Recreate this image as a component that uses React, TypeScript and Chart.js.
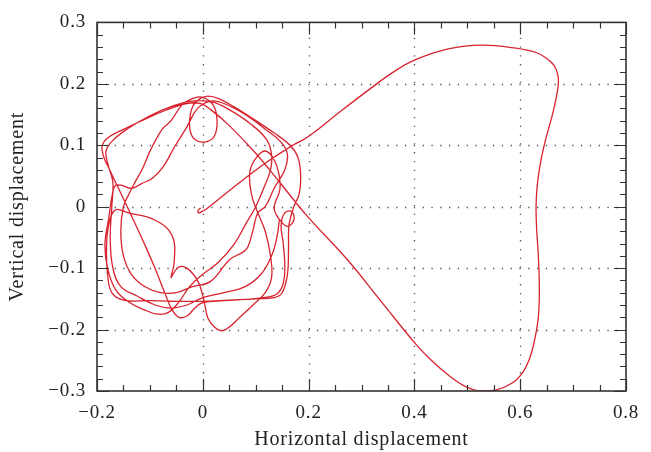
import React, { useEffect, useRef } from "react";
import { Chart, registerables } from "chart.js";

Chart.register(...registerables);

// Initial hook near the origin
const startPath: [number, number][] = [
  [-0.004, -0.002], [-0.009, -0.006], [-0.008, -0.010], [-0.002, -0.008], [0.008, -0.003],
  [0.06, 0.033], [0.12, 0.072], [0.17, 0.100],
];

// Large excursion to the right
const lobePath: [number, number][] = [
  [0.199, 0.114], [0.26, 0.155], [0.318, 0.193], [0.36, 0.219], [0.401, 0.239], [0.464, 0.257],
  [0.528, 0.263], [0.592, 0.258], [0.630, 0.251], [0.649, 0.242], [0.664, 0.230], [0.671, 0.215],
  [0.672, 0.199], [0.668, 0.177], [0.661, 0.150], [0.652, 0.122], [0.644, 0.095], [0.637, 0.065],
  [0.632, 0.033], [0.630, 0.0], [0.631, -0.035], [0.634, -0.075], [0.636, -0.119], [0.636, -0.150],
  [0.634, -0.183], [0.627, -0.218], [0.617, -0.249], [0.603, -0.272], [0.585, -0.287], [0.555, -0.298],
  [0.522, -0.300], [0.495, -0.292], [0.464, -0.274], [0.432, -0.250], [0.401, -0.222], [0.337, -0.154],
  [0.273, -0.086], [0.197, -0.015], [0.146, 0.039],
];

// Tangled motion around the origin
const rosettePath: [number, number][] = [
  [0.10, 0.087], [0.05, 0.132], [0.015, 0.158], [-0.005, 0.168],
  [-0.03, 0.168], [-0.07, 0.157], [-0.11, 0.142], [-0.15, 0.126], [-0.178, 0.113], [-0.19, 0.100], [-0.188, 0.083],
  [-0.175, 0.058], [-0.155, 0.022], [-0.132, -0.02], [-0.108, -0.065], [-0.088, -0.105], [-0.072, -0.14],
  [-0.058, -0.168], [-0.045, -0.180], [-0.03, -0.178], [-0.015, -0.165],
  [0.0, -0.156], [0.04, -0.153], [0.08, -0.151], [0.115, -0.148], [0.14, -0.142], [0.152, -0.125],
  [0.155, -0.095], [0.152, -0.06], [0.148, -0.03],
  [0.155, -0.01], [0.168, -0.008], [0.172, -0.022], [0.16, -0.032], [0.146, -0.022], [0.135, -0.002],
  [0.146, 0.03], [0.14, 0.066], [0.121, 0.09], [0.103, 0.082], [0.089, 0.057], [0.092, 0.02], [0.104, -0.01], [0.118, -0.04],
  [0.128, -0.08], [0.13, -0.115], [0.118, -0.14], [0.095, -0.16], [0.07, -0.18], [0.05, -0.196], [0.036, -0.202],
  [0.022, -0.196], [0.01, -0.182], [0.005, -0.165],
  [0.0, -0.145], [-0.01, -0.12], [-0.03, -0.10], [-0.045, -0.098], [-0.055, -0.108], [-0.06, -0.115], [-0.054, -0.09],
  [-0.058, -0.047], [-0.09, -0.022], [-0.141, -0.01],
  [-0.165, -0.005], [-0.178, -0.03], [-0.182, -0.07], [-0.18, -0.11], [-0.172, -0.14], [-0.15, -0.152], [-0.1, -0.153],
  [-0.05, -0.154], [0.0, -0.154], [0.05, -0.152], [0.1, -0.15], [0.135, -0.148], [0.15, -0.14],
  [0.16, -0.11], [0.162, -0.07], [0.163, -0.03], [0.172, 0.0], [0.182, 0.02], [0.185, 0.05], [0.18, 0.08], [0.165, 0.1],
  [0.135, 0.12], [0.095, 0.143], [0.06, 0.162], [0.03, 0.176], [0.01, 0.18], [-0.005, 0.176], [-0.018, 0.165],
  [-0.025, 0.14], [-0.022, 0.118], [-0.01, 0.107], [0.008, 0.106], [0.022, 0.115], [0.027, 0.14], [0.02, 0.165],
  [0.0, 0.178], [-0.02, 0.176],
  [-0.04, 0.165], [-0.06, 0.14], [-0.077, 0.126], [-0.1, 0.09], [-0.115, 0.06], [-0.128, 0.04], [-0.14, 0.02],
  [-0.15, 0.0], [-0.155, -0.04], [-0.15, -0.08], [-0.135, -0.11], [-0.11, -0.13], [-0.08, -0.14], [-0.05, -0.14], [-0.02, -0.13],
  [0.014, -0.122], [0.051, -0.086], [0.076, -0.074], [0.085, -0.066], [0.095, -0.038], [0.104, -0.01], [0.118, 0.0],
  [0.135, 0.03], [0.155, 0.06], [0.16, 0.085], [0.148, 0.105], [0.12, 0.125], [0.08, 0.15], [0.04, 0.168], [0.015, 0.172],
  [-0.01, 0.16], [-0.03, 0.13], [-0.053, 0.098], [-0.075, 0.065], [-0.096, 0.046], [-0.115, 0.038], [-0.134, 0.03],
  [-0.155, 0.035], [-0.166, 0.034], [-0.172, 0.015], [-0.178, -0.02], [-0.185, -0.06], [-0.18, -0.1], [-0.165, -0.135],
  [-0.14, -0.155], [-0.11, -0.168], [-0.085, -0.175], [-0.065, -0.172], [-0.045, -0.155], [-0.025, -0.13], [0.0, -0.11],
  [0.03, -0.09], [0.06, -0.06], [0.08, -0.03], [0.1, 0.0], [0.115, 0.03], [0.128, 0.06], [0.13, 0.085],
  [0.12, 0.11], [0.09, 0.135], [0.05, 0.158], [0.02, 0.17], [-0.02, 0.172], [-0.06, 0.163], [-0.1, 0.148],
  [-0.14, 0.128], [-0.17, 0.108], [-0.183, 0.09], [-0.178, 0.065], [-0.17, 0.04], [-0.172, 0.0], [-0.175, -0.05],
  [-0.17, -0.1], [-0.155, -0.13], [-0.125, -0.145], [-0.09, -0.16], [-0.06, -0.165], [-0.03, -0.16], [0.0, -0.148],
  [0.04, -0.14], [0.08, -0.13], [0.11, -0.11], [0.13, -0.08], [0.14, -0.05], [0.145, -0.02],
];

const xTickValues = [-0.2, 0, 0.2, 0.4, 0.6, 0.8];
const yTickValues = [-0.3, -0.2, -0.1, 0, 0.1, 0.2, 0.3];
const xGridValues = [0, 0.2, 0.4, 0.6];
const yGridValues = [-0.2, -0.1, 0, 0.1, 0.2];

const FONT = "'Liberation Serif', 'Times New Roman', serif";

const fmt = (v: number) => {
  const r = Math.round(v * 10) / 10;
  if (r === 0) return "0";
  return (r < 0 ? "\u2212" : "") + Math.abs(r).toString();
};

const framePlugin = {
  id: "frame",
  beforeDraw(chart: any) {
    chart.ctx.letterSpacing = "0.8px";
  },
  beforeDatasetsDraw(chart: any) {
    const { ctx, chartArea: a, scales } = chart;
    const xs = scales.x, ys = scales.y;
    ctx.save();
    ctx.strokeStyle = "#555";
    ctx.lineWidth = 1.3;
    ctx.setLineDash([1.3, 7.5]);
    xGridValues.forEach((v) => {
      const px = Math.round(xs.getPixelForValue(v)) + 0.5;
      ctx.beginPath(); ctx.moveTo(px, a.bottom); ctx.lineTo(px, a.top); ctx.stroke();
    });
    yGridValues.forEach((v) => {
      const py = Math.round(ys.getPixelForValue(v)) + 0.5;
      ctx.beginPath(); ctx.moveTo(a.left, py); ctx.lineTo(a.right, py); ctx.stroke();
    });
    ctx.restore();
  },
  afterDraw(chart: any) {
    const { ctx, chartArea: a, scales } = chart;
    const xs = scales.x, ys = scales.y;
    ctx.save();
    ctx.setLineDash([]);
    ctx.strokeStyle = "#333";
    ctx.lineWidth = 1.2;
    for (let i = 0; i <= 20; i++) {
      const v = -0.2 + i * 0.05;
      const major = i % 4 === 0;
      const len = major ? 12 : 6;
      const px = Math.round(xs.getPixelForValue(v)) + 0.5;
      ctx.beginPath();
      ctx.moveTo(px, a.bottom); ctx.lineTo(px, a.bottom - len);
      ctx.moveTo(px, a.top); ctx.lineTo(px, a.top + len);
      ctx.stroke();
    }
    for (let i = 0; i <= 30; i++) {
      const v = -0.3 + i * 0.02;
      const major = i % 5 === 0;
      const len = major ? 12 : 6;
      const py = Math.round(ys.getPixelForValue(v)) + 0.5;
      ctx.beginPath();
      ctx.moveTo(a.left, py); ctx.lineTo(a.left + len, py);
      ctx.moveTo(a.right, py); ctx.lineTo(a.right - len, py);
      ctx.stroke();
    }
    ctx.lineWidth = 1.6;
    ctx.strokeRect(a.left, a.top, a.right - a.left, a.bottom - a.top);
    ctx.restore();
  },
};

export default function App() {
  const ref = useRef<HTMLCanvasElement | null>(null);
  useEffect(() => {
    document.body.style.margin = "0";
    if (!ref.current) return;
    const pts = [...startPath, ...lobePath, ...rosettePath].map(([x, y]) => ({ x, y }));
    const chart = new Chart(ref.current, {
      type: "scatter",
      data: {
        datasets: [
          {
            data: pts,
            showLine: true,
            borderColor: "#d8232f",
            borderWidth: 1.3,
            pointRadius: 0,
            tension: 0.4,
            fill: false,
          },
        ],
      },
      options: {
        responsive: false,
        animation: false,
        layout: { padding: { left: 0, top: 16, right: 25, bottom: 0 } },
        plugins: { legend: { display: false }, tooltip: { enabled: false } },
        scales: {
          x: {
            type: "linear",
            min: -0.2,
            max: 0.8,
            afterBuildTicks: (s: any) => { s.ticks = xTickValues.map((value) => ({ value })); },
            afterFit: (s: any) => { s.height = 61; },
            grid: { display: false, drawTicks: false },
            border: { display: false },
            ticks: {
              padding: 11,
              color: "#222",
              maxRotation: 0,
              font: { family: FONT, size: 19 },
              callback: (v: any) => fmt(Number(v)),
            },
            title: {
              display: true,
              text: "Horizontal displacement",
              color: "#222",
              padding: { top: 3, bottom: 0 },
              font: { family: FONT, size: 20 },
            },
          },
          y: {
            type: "linear",
            min: -0.3,
            max: 0.3,
            afterBuildTicks: (s: any) => { s.ticks = yTickValues.map((value) => ({ value })); },
            afterFit: (s: any) => { s.width = 97; },
            grid: { display: false, drawTicks: false },
            border: { display: false },
            ticks: {
              padding: 11,
              color: "#222",
              font: { family: FONT, size: 19 },
              callback: (v: any) => fmt(Number(v)),
            },
            title: {
              display: true,
              text: "Vertical displacement",
              color: "#222",
              padding: { top: 6, bottom: 0 },
              font: { family: FONT, size: 20 },
            },
          },
        },
      },
      plugins: [framePlugin],
    });
    return () => chart.destroy();
  }, []);
  return (
    <div style={{ width: 651, height: 452 }}>
      <canvas ref={ref} width={651} height={452} />
    </div>
  );
}
